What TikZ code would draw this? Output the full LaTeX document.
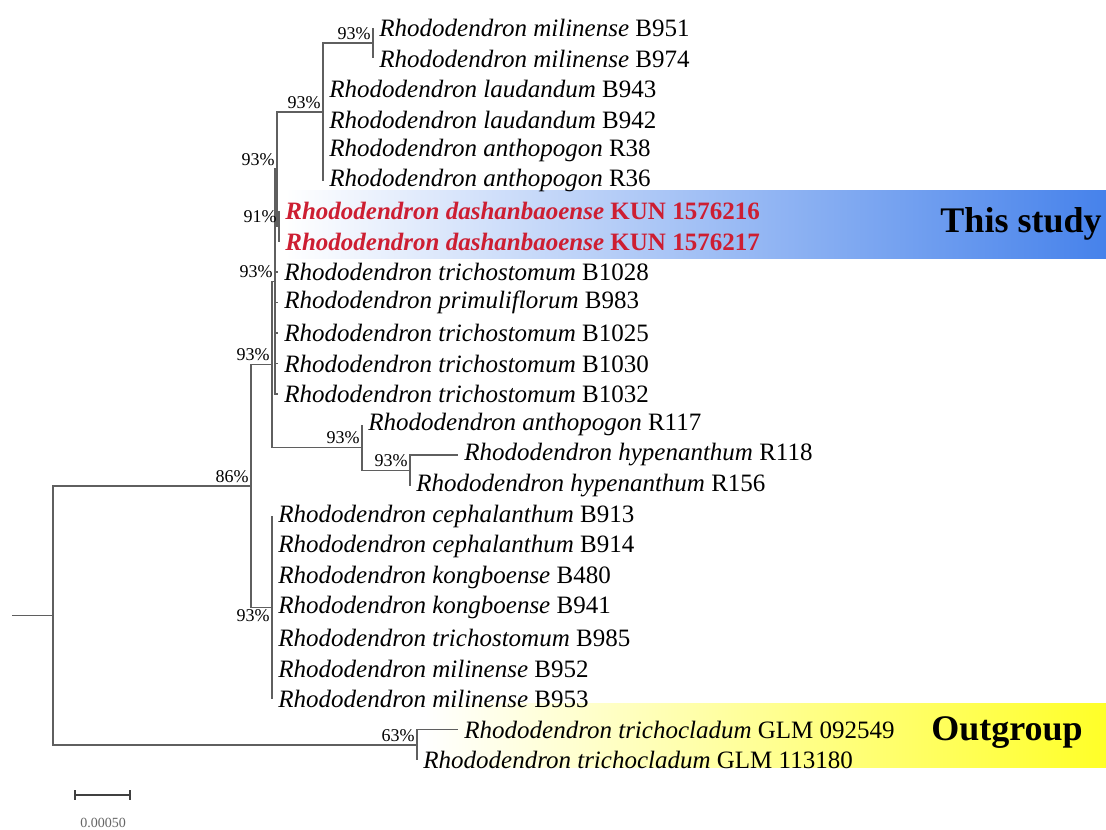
\documentclass[tikz,border=0pt]{standalone}
\usepackage{fontspec}
\setmainfont{Liberation Serif}
\usetikzlibrary{positioning}

\definecolor{treegray}{RGB}{95,95,95}
\definecolor{studyred}{RGB}{205,30,50}
\definecolor{studyblue}{RGB}{70,130,235}
\definecolor{outyellow}{RGB}{255,255,40}

\newcommand\taxfont{\fontsize{12.5}{14}\selectfont}
\newcommand\bootfont{\fontsize{9}{10}\selectfont}
\newcommand\bandfont{\fontsize{18}{20}\selectfont\bfseries}
\newcommand\rhodo[2]{\textit{Rhododendron #1} #2}

\tikzset{
  branch/.style={draw=treegray, line width=0.75pt},
  taxon/.style={inner sep=0pt, font=\taxfont},
  boot/.style={inner sep=0pt, font=\bootfont, anchor=south east, xshift=-1pt, yshift=1.5pt},
  bootbelow/.style={inner sep=0pt, font=\bootfont, anchor=north east, xshift=-1pt, yshift=-1pt},
  bandlabel/.style={inner sep=0pt, font=\bandfont},
}

\begin{document}
\begin{tikzpicture}[x=0.5pt,y=-0.5pt]
    % frame
    \path[fill=white,use as bounding box] (0,0) rectangle (1106,829);
    % highlight bands
    \shade[left color=white, right color=studyblue] (285,190) rectangle (1106,258);
    \shade[left color=white, right color=outyellow] (425,703) rectangle (1106,767);
    \node[bandlabel] (study) at (1021,224) {This study};
    \node[bandlabel] (outgroup) at (1007,733) {Outgroup};
    % leaf tips
    \coordinate (t951) at (373,28);
    \coordinate (t974) at (373,58.5);
    \coordinate (t943) at (323,89);
    \coordinate (t942) at (323,119.5);
    \coordinate (t38) at (323,150);
    \coordinate (t36) at (323,180.5);
    \coordinate (t216) at (279,211);
    \coordinate (t217) at (279,241.5);
    \coordinate (t1028) at (278,272);
    \coordinate (t983) at (278,302.5);
    \coordinate (t1025) at (278,333);
    \coordinate (t1030) at (278,363.5);
    \coordinate (t1032) at (278,394);
    \coordinate (t117) at (362,424.5);
    \coordinate (t118) at (458,455);
    \coordinate (t156) at (410,485.5);
    \coordinate (t913) at (272,516);
    \coordinate (t914) at (272,546.5);
    \coordinate (t480) at (272,577);
    \coordinate (t941) at (272,607.5);
    \coordinate (t985) at (272,638);
    \coordinate (t952) at (272,668.5);
    \coordinate (t953) at (272,699);
    \coordinate (t549) at (458,729.5);
    \coordinate (t180) at (417,760);
    % taxon names
    \node[taxon, right=3pt of t951] (l951) {\rhodo{milinense}{B951}};
    \node[taxon, right=3pt of t974] (l974) {\rhodo{milinense}{B974}};
    \node[taxon, right=3pt of t943] (l943) {\rhodo{laudandum}{B943}};
    \node[taxon, right=3pt of t942] (l942) {\rhodo{laudandum}{B942}};
    \node[taxon, right=3pt of t38] (l38) {\rhodo{anthopogon}{R38}};
    \node[taxon, right=3pt of t36] (l36) {\rhodo{anthopogon}{R36}};
    \node[taxon, right=3pt of t216, text=studyred, font=\taxfont\bfseries] (l216) {\rhodo{dashanbaoense}{KUN 1576216}};
    \node[taxon, right=3pt of t217, text=studyred, font=\taxfont\bfseries] (l217) {\rhodo{dashanbaoense}{KUN 1576217}};
    \node[taxon, right=3pt of t1028] (l1028) {\rhodo{trichostomum}{B1028}};
    \node[taxon, right=3pt of t983] (l983) {\rhodo{primuliflorum}{B983}};
    \node[taxon, right=3pt of t1025] (l1025) {\rhodo{trichostomum}{B1025}};
    \node[taxon, right=3pt of t1030] (l1030) {\rhodo{trichostomum}{B1030}};
    \node[taxon, right=3pt of t1032] (l1032) {\rhodo{trichostomum}{B1032}};
    \node[taxon, right=3pt of t117] (l117) {\rhodo{anthopogon}{R117}};
    \node[taxon, right=3pt of t118] (l118) {\rhodo{hypenanthum}{R118}};
    \node[taxon, right=3pt of t156] (l156) {\rhodo{hypenanthum}{R156}};
    \node[taxon, right=3pt of t913] (l913) {\rhodo{cephalanthum}{B913}};
    \node[taxon, right=3pt of t914] (l914) {\rhodo{cephalanthum}{B914}};
    \node[taxon, right=3pt of t480] (l480) {\rhodo{kongboense}{B480}};
    \node[taxon, right=3pt of t941] (l941) {\rhodo{kongboense}{B941}};
    \node[taxon, right=3pt of t985] (l985) {\rhodo{trichostomum}{B985}};
    \node[taxon, right=3pt of t952] (l952) {\rhodo{milinense}{B952}};
    \node[taxon, right=3pt of t953] (l953) {\rhodo{milinense}{B953}};
    \node[taxon, right=3pt of t549] (l549) {\rhodo{trichocladum}{GLM 092549}};
    \node[taxon, right=3pt of t180] (l180) {\rhodo{trichocladum}{GLM 113180}};
    % internal nodes
    \coordinate (nMil) at (373,43.25);
    \coordinate (nLau) at (323,111.9);
    \coordinate (nDsb) at (279,226.25);
    \coordinate (nStudy) at (277,169);
    \coordinate (nTri) at (275,281.5);
    \coordinate (nHyp) at (410,470.25);
    \coordinate (nAnt) at (362,447.4);
    \coordinate (nUpper) at (272,364.4);
    \coordinate (nLower) at (272,607.5);
    \coordinate (nIn) at (251,486);
    \coordinate (nOut) at (417,744.75);
    \coordinate (nRoot) at (53,615.4);
    \coordinate (stub) at (12,615.4);
    % branches
    \draw[branch] (stub) -- (nRoot);
    \draw[branch] (nRoot) |- (nIn);
    \draw[branch] (nRoot) |- (nOut);
    \draw[branch] (nIn) |- (nUpper);
    \draw[branch] (nIn) |- (nLower);
    \draw[branch] (nUpper) |- (nTri);
    \draw[branch] (nUpper) |- (nAnt);
    \draw[branch] (nTri) |- (nStudy);
    \foreach \t in {t1028,t983,t1025,t1030,t1032}
        \draw[branch] (nTri) |- (\t);
    \draw[branch] (nStudy) |- (nLau);
    \draw[branch] (nStudy) |- (nDsb);
    \foreach \t in {t216,t217}
        \draw[branch] (nDsb) |- (\t);
    \draw[branch] (nLau) |- (nMil);
    \foreach \t in {t943,t942,t38,t36}
        \draw[branch] (nLau) |- (\t);
    \foreach \t in {t951,t974}
        \draw[branch] (nMil) |- (\t);
    \draw[branch] (nAnt) |- (t117);
    \draw[branch] (nAnt) |- (nHyp);
    \foreach \t in {t118,t156}
        \draw[branch] (nHyp) |- (\t);
    \foreach \t in {t913,t914,t480,t941,t985,t952,t953}
        \draw[branch] (nLower) |- (\t);
    \foreach \t in {t549,t180}
        \draw[branch] (nOut) |- (\t);
    % bootstrap values
    \node[boot] (bMil) at (nMil) {93\%};
    \node[boot] (bLau) at (nLau) {93\%};
    \node[boot] (bStudy) at (nStudy) {93\%};
    \node[boot] (bDsb) at (nDsb) {91\%};
    \node[boot] (bTri) at (nTri) {93\%};
    \node[boot] (bUpper) at (nUpper) {93\%};
    \node[boot] (bAnt) at (nAnt) {93\%};
    \node[boot] (bHyp) at (nHyp) {93\%};
    \node[boot] (bIn) at (nIn) {86\%};
    \node[bootbelow] (bLower) at (nLower) {93\%};
    \node[boot] (bOut) at (nOut) {63\%};
    % scale bar
    \coordinate (sbL) at (75,795);
    \coordinate (sbR) at (130,795);
    \draw[branch, draw=black!75] (sbL) -- (sbR);
    \draw[line width=1pt, black!75] (sbL) ++(0,-5) -- ++(0,10);
    \draw[line width=1pt, black!75] (sbR) ++(0,-5) -- ++(0,10);
    \node[inner sep=0pt, font=\fontsize{7}{8}\selectfont, text=black!60] (sbLabel) at (103,823) {0.00050};
\end{tikzpicture}
\end{document}
